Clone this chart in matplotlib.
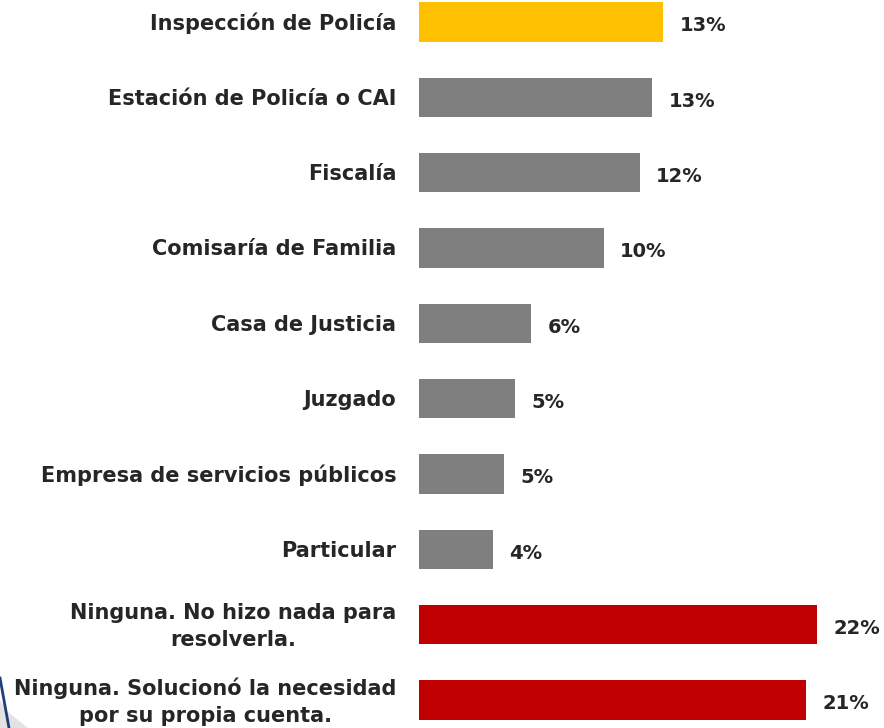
import matplotlib.pyplot as plt
from matplotlib.patches import Polygon
from matplotlib.lines import Line2D
import numpy as np

# --- Data ---
categories = ['Inspección de Policía', 'Estación de Policía o CAI', 'Fiscalía',
              'Comisaría de Familia', 'Casa de Justicia', 'Juzgado',
              'Empresa de servicios públicos', 'Particular',
              'Ninguna. No hizo nada para\nresolverla.',
              'Ninguna. Solucionó la necesidad\npor su propia cuenta.']
values = [13.5, 12.9, 12.2, 10.2, 6.2, 5.3, 4.7, 4.1, 22.0, 21.4]
value_labels = ['13%', '13%', '12%', '10%', '6%', '5%', '5%', '4%', '22%', '21%']
colors = ['#FFC000'] + ['#7F7F7F'] * 7 + ['#C00000'] * 2

W, H = 884, 728
fig = plt.figure(figsize=(W / 100, H / 100), dpi=100)

# decorative corner fragment (bottom-left)
fig.patches.append(Polygon([(0, 1 - 700 / H), (8 / W, 1 - 712 / H), (28 / W, 0), (0, 0)],
                           closed=True, transform=fig.transFigure,
                           facecolor='#E3E3E3', edgecolor='none'))
fig.lines.append(Line2D([0, 9 / W], [1 - 678 / H, 0], transform=fig.transFigure,
                        color='#1F3F7A', linewidth=2))

ax = fig.add_axes([419 / W, 0, 1 - 419 / W, 1])

y = np.arange(len(categories))
ax.barh(y, values, height=0.52, color=colors)
ax.set_ylim(9.372, -0.292)
ax.set_xlim(0, 25.7)
ax.axis('off')

text_color = '#262626'
for i, (v, lab, cat) in enumerate(zip(values, value_labels, categories)):
    ax.text(v + 0.9, i + 0.05, lab, ha='left', va='center', fontsize=14,
            fontweight='bold', color=text_color)
    ax.text(-1.25, i + 0.02, cat, ha='right', va='center', fontsize=15,
            fontweight='bold', color=text_color, multialignment='center',
            linespacing=1.45, clip_on=False)

plt.savefig('out.png', dpi=100)
plt.close()
